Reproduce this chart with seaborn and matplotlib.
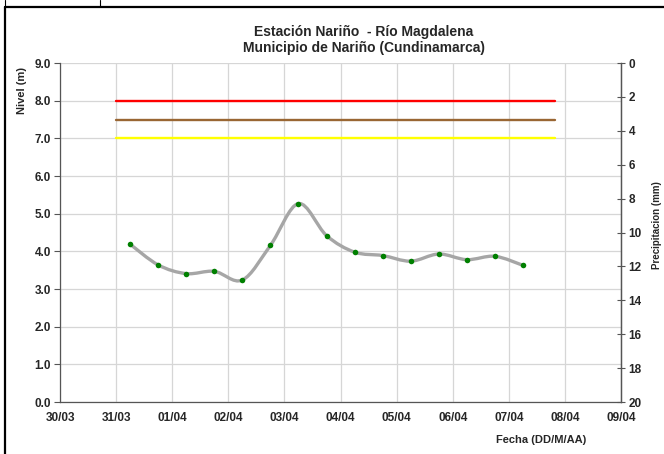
import numpy as np
import pandas as pd
import seaborn as sns
import matplotlib.pyplot as plt
from matplotlib.path import Path
from matplotlib.patches import PathPatch
from matplotlib.lines import Line2D

# ===== data =====
date_labels = ['30/03', '31/03', '01/04', '02/04', '03/04', '04/04',
               '05/04', '06/04', '07/04', '08/04', '09/04']
# days since 30/03 00:00, readings every 12 h
obs_days = [1.25, 1.75, 2.25, 2.75, 3.25, 3.75, 4.25, 4.75,
            5.25, 5.75, 6.25, 6.75, 7.25, 7.75, 8.25]
nivel = [4.19, 3.64, 3.41, 3.47, 3.24, 4.16, 5.27, 4.42,
         3.98, 3.89, 3.74, 3.93, 3.78, 3.87, 3.63]
alert_levels = [8.0, 7.5, 7.0]
alert_colors = ['#ff0000', '#996633', '#ffff00']
alert_start, alert_end = 1.0, 8.83

sns.set_style('white')
plt.rcParams['font.family'] = ['Liberation Sans', 'DejaVu Sans']
plt.rcParams['font.weight'] = 'bold'

fig = plt.figure(figsize=(6.64, 4.54), dpi=100)
ax = fig.add_axes([0.0904, 0.1145, 0.845, 0.7465])

# alert thresholds
for lvl, col in zip(alert_levels, alert_colors):
    thr = pd.DataFrame({'x': [alert_start, alert_end], 'y': [lvl, lvl]})
    sns.lineplot(data=thr, x='x', y='y', color=col, linewidth=1.7, ax=ax, zorder=3)

# smoothed level curve (Bezier segments through the observations)
pts = np.column_stack([obs_days, nivel])
verts = [tuple(pts[0])]
codes = [Path.MOVETO]
n = len(pts)
for i in range(n - 1):
    p0 = pts[max(i - 1, 0)]
    p1 = pts[i]
    p2 = pts[i + 1]
    p3 = pts[min(i + 2, n - 1)]
    c1 = p1 + (p2 - p0) / 6.0
    c2 = p2 - (p3 - p1) / 6.0
    verts += [tuple(c1), tuple(c2), tuple(p2)]
    codes += [Path.CURVE4] * 3
ax.add_patch(PathPatch(Path(verts, codes), facecolor='none', edgecolor='#a6a6a6',
                       linewidth=2.4, zorder=4, capstyle='round'))

df = pd.DataFrame({'dia': obs_days, 'nivel': nivel})
sns.scatterplot(data=df, x='dia', y='nivel', color='#008000', s=16,
                edgecolor='#008000', linewidth=0, ax=ax, zorder=5)

ax.set_xlim(0, 10)
ax.set_ylim(0, 9)
ax.set_xticks(range(len(date_labels)))
ax.set_xticklabels(date_labels)
ax.set_yticks(np.arange(0, 9.5, 1.0))
ax.set_yticklabels([f'{v:.1f}' for v in np.arange(0, 9.5, 1.0)])
ax.tick_params(axis='both', labelsize=8.5, length=4, width=0.8, color='#555555',
               direction='out', pad=2.5)
ax.tick_params(axis='x', direction='inout', length=5, pad=5)
ax.grid(True, color='#d6d6d6', linewidth=0.9)
ax.set_axisbelow(True)
ax.spines['top'].set_visible(False)
for side in ['left', 'bottom', 'right']:
    ax.spines[side].set_color('#555555')
    ax.spines[side].set_linewidth(0.9)
ax.set_xlabel('')
ax.set_ylabel('')

# secondary axis: precipitation (inverted)
ax2 = ax.twinx()
ax2.set_ylim(20, 0)
ax2.set_yticks(range(0, 21, 2))
ax2.tick_params(axis='y', labelsize=8.5, direction='inout', length=6, width=0.8,
                color='#555555', pad=2.5)
for side in ['top', 'left', 'bottom']:
    ax2.spines[side].set_visible(False)
ax2.spines['right'].set_color('#555555')
ax2.spines['right'].set_linewidth(0.9)
ax2.grid(False)

# texts
fig.text(0.548, 0.9306, 'Estación Nariño  - Río Magdalena', ha='center', va='center',
         fontsize=10, fontweight='bold')
fig.text(0.548, 0.894, 'Municipio de Nariño (Cundinamarca)', ha='center', va='center',
         fontsize=10, fontweight='bold')
fig.text(0.033, 0.80, 'Nivel (m)', rotation=90, ha='center', va='center',
         fontsize=8, fontweight='bold')
fig.text(0.989, 0.504, 'Precipitacion (mm)', rotation=90, ha='center', va='center',
         fontsize=7, fontweight='bold')
fig.text(0.815, 0.031, 'Fecha (DD/M/AA)', ha='center', va='center',
         fontsize=8, fontweight='bold')

# outer frame of the document cell
fig.add_artist(Line2D([5 / 664, 1.0], [1 - 7 / 454, 1 - 7 / 454],
                      transform=fig.transFigure, color='black', linewidth=1.6))
fig.add_artist(Line2D([5 / 664, 5 / 664], [0, 1 - 7 / 454],
                      transform=fig.transFigure, color='black', linewidth=1.6))
fig.add_artist(Line2D([100 / 664, 100 / 664], [1 - 7 / 454, 1.0],
                      transform=fig.transFigure, color='black', linewidth=0.8))
fig.add_artist(Line2D([5 / 664, 5 / 664], [1 - 7 / 454, 1.0],
                      transform=fig.transFigure, color='black', linewidth=0.8))

fig.savefig('out.png', dpi=100)
